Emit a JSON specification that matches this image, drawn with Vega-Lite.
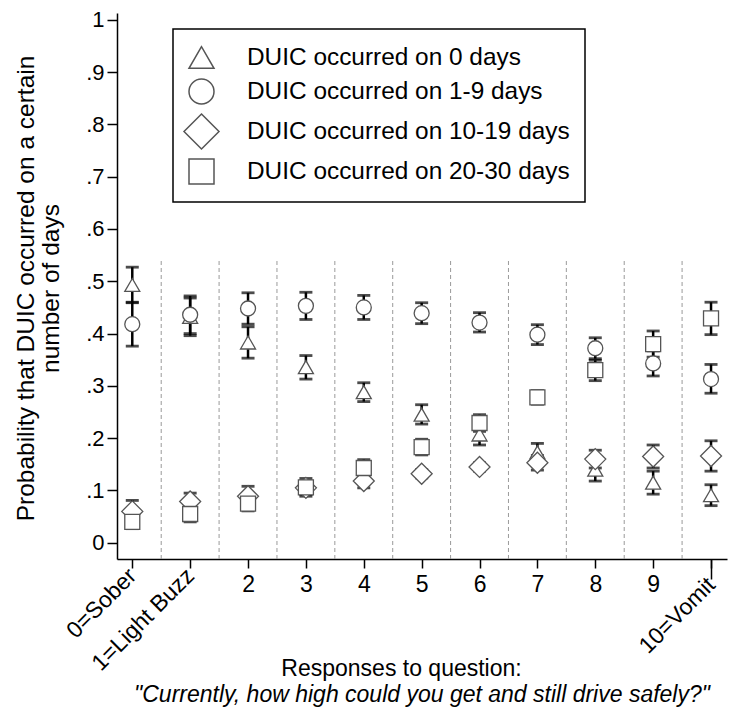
{
  "$schema": "https://vega.github.io/schema/vega-lite/v6.json",
  "width": 610,
  "height": 546,
  "autosize": {"type": "none"},
  "padding": {"left": 117, "top": 13, "right": 25, "bottom": 152},
  "background": "white",
  "resolve": {"axis": {"x": "independent", "y": "independent"}},
  "config": {
    "view": {"stroke": null},
    "font": "Liberation Sans",
    "legend": {
      "orient": "none",
      "legendX": 56,
      "legendY": 16,
      "strokeColor": "black",
      "strokeWidth": 1.5,
      "padding": 15,
      "labelFontSize": 24.4,
      "labelColor": "black",
      "labelFont": "Liberation Sans",
      "labelOffset": 32,
      "symbolSize": 625,
      "rowPadding": 4,
      "labelLimit": 500
    }
  },
  "title": {
    "text": "\"Currently, how high could you get and still drive safely?\"",
    "orient": "bottom",
    "anchor": "middle",
    "frame": "group",
    "fontStyle": "italic",
    "fontWeight": "normal",
    "fontSize": 23,
    "font": "Liberation Sans",
    "color": "black",
    "offset": 4
  },
  "data": {
    "values": [
      {"x": 0, "series": "DUIC occurred on 0 days", "p": 0.493, "lo": 0.459, "hi": 0.527},
      {"x": 1, "series": "DUIC occurred on 0 days", "p": 0.432, "lo": 0.396, "hi": 0.468},
      {"x": 2, "series": "DUIC occurred on 0 days", "p": 0.383, "lo": 0.353, "hi": 0.413},
      {"x": 3, "series": "DUIC occurred on 0 days", "p": 0.336, "lo": 0.313, "hi": 0.358},
      {"x": 4, "series": "DUIC occurred on 0 days", "p": 0.288, "lo": 0.270, "hi": 0.306},
      {"x": 5, "series": "DUIC occurred on 0 days", "p": 0.245, "lo": 0.227, "hi": 0.264},
      {"x": 6, "series": "DUIC occurred on 0 days", "p": 0.207, "lo": 0.187, "hi": 0.227},
      {"x": 7, "series": "DUIC occurred on 0 days", "p": 0.173, "lo": 0.157, "hi": 0.190},
      {"x": 8, "series": "DUIC occurred on 0 days", "p": 0.140, "lo": 0.118, "hi": 0.160},
      {"x": 9, "series": "DUIC occurred on 0 days", "p": 0.115, "lo": 0.093, "hi": 0.137},
      {"x": 10, "series": "DUIC occurred on 0 days", "p": 0.091, "lo": 0.071, "hi": 0.111},
      {"x": 0, "series": "DUIC occurred on 1-9 days", "p": 0.418, "lo": 0.376, "hi": 0.460},
      {"x": 1, "series": "DUIC occurred on 1-9 days", "p": 0.436, "lo": 0.400, "hi": 0.472},
      {"x": 2, "series": "DUIC occurred on 1-9 days", "p": 0.448, "lo": 0.418, "hi": 0.478},
      {"x": 3, "series": "DUIC occurred on 1-9 days", "p": 0.453, "lo": 0.427, "hi": 0.479},
      {"x": 4, "series": "DUIC occurred on 1-9 days", "p": 0.450, "lo": 0.427, "hi": 0.473},
      {"x": 5, "series": "DUIC occurred on 1-9 days", "p": 0.439, "lo": 0.419, "hi": 0.459},
      {"x": 6, "series": "DUIC occurred on 1-9 days", "p": 0.421, "lo": 0.403, "hi": 0.440},
      {"x": 7, "series": "DUIC occurred on 1-9 days", "p": 0.398, "lo": 0.379, "hi": 0.417},
      {"x": 8, "series": "DUIC occurred on 1-9 days", "p": 0.372, "lo": 0.352, "hi": 0.392},
      {"x": 9, "series": "DUIC occurred on 1-9 days", "p": 0.343, "lo": 0.319, "hi": 0.367},
      {"x": 10, "series": "DUIC occurred on 1-9 days", "p": 0.313, "lo": 0.286, "hi": 0.341},
      {"x": 0, "series": "DUIC occurred on 10-19 days", "p": 0.060, "lo": 0.040, "hi": 0.081},
      {"x": 1, "series": "DUIC occurred on 10-19 days", "p": 0.079, "lo": 0.063, "hi": 0.095},
      {"x": 2, "series": "DUIC occurred on 10-19 days", "p": 0.089, "lo": 0.070, "hi": 0.108},
      {"x": 3, "series": "DUIC occurred on 10-19 days", "p": 0.105, "lo": 0.092, "hi": 0.118},
      {"x": 4, "series": "DUIC occurred on 10-19 days", "p": 0.118, "lo": 0.105, "hi": 0.131},
      {"x": 5, "series": "DUIC occurred on 10-19 days", "p": 0.132, "lo": 0.124, "hi": 0.140},
      {"x": 6, "series": "DUIC occurred on 10-19 days", "p": 0.145, "lo": 0.137, "hi": 0.153},
      {"x": 7, "series": "DUIC occurred on 10-19 days", "p": 0.153, "lo": 0.139, "hi": 0.167},
      {"x": 8, "series": "DUIC occurred on 10-19 days", "p": 0.160, "lo": 0.143, "hi": 0.177},
      {"x": 9, "series": "DUIC occurred on 10-19 days", "p": 0.165, "lo": 0.143, "hi": 0.187},
      {"x": 10, "series": "DUIC occurred on 10-19 days", "p": 0.166, "lo": 0.137, "hi": 0.195},
      {"x": 0, "series": "DUIC occurred on 20-30 days", "p": 0.040, "lo": 0.027, "hi": 0.053},
      {"x": 1, "series": "DUIC occurred on 20-30 days", "p": 0.055, "lo": 0.040, "hi": 0.070},
      {"x": 2, "series": "DUIC occurred on 20-30 days", "p": 0.075, "lo": 0.061, "hi": 0.089},
      {"x": 3, "series": "DUIC occurred on 20-30 days", "p": 0.106, "lo": 0.089, "hi": 0.123},
      {"x": 4, "series": "DUIC occurred on 20-30 days", "p": 0.143, "lo": 0.127, "hi": 0.159},
      {"x": 5, "series": "DUIC occurred on 20-30 days", "p": 0.183, "lo": 0.168, "hi": 0.198},
      {"x": 6, "series": "DUIC occurred on 20-30 days", "p": 0.229, "lo": 0.213, "hi": 0.245},
      {"x": 7, "series": "DUIC occurred on 20-30 days", "p": 0.278, "lo": 0.265, "hi": 0.291},
      {"x": 8, "series": "DUIC occurred on 20-30 days", "p": 0.330, "lo": 0.310, "hi": 0.349},
      {"x": 9, "series": "DUIC occurred on 20-30 days", "p": 0.380, "lo": 0.355, "hi": 0.405},
      {"x": 10, "series": "DUIC occurred on 20-30 days", "p": 0.429, "lo": 0.398, "hi": 0.460}
    ]
  },
  "layer": [
    {
      "data": {"values": [{"b": 0.5}, {"b": 1.5}, {"b": 2.5}, {"b": 3.5}, {"b": 4.5}, {"b": 5.5}, {"b": 6.5}, {"b": 7.5}, {"b": 8.5}, {"b": 9.5}]},
      "mark": {"type": "rule", "color": "#9a9a9a", "strokeWidth": 1, "strokeDash": [4, 3]},
      "encoding": {
        "x": {"field": "b", "type": "quantitative", "scale": {"domain": [-0.264, 10.276], "nice": false, "zero": false}, "axis": null},
        "y": {"datum": -0.031, "type": "quantitative", "scale": {"domain": [-0.031, 1.013], "nice": false, "zero": false}, "axis": null},
        "y2": {"datum": 0.543}
      }
    },
    {
      "mark": {"type": "rule", "color": "black", "strokeWidth": 2.5},
      "encoding": {
        "x": {
          "field": "x",
          "type": "quantitative",
          "axis": {
            "orient": "bottom",
            "values": [0, 1, 10],
            "labelExpr": "datum.value == 0 ? '0=Sober' : datum.value == 1 ? '1=Light Buzz' : '10=Vomit'",
            "domain": false,
            "grid": false,
            "ticks": true,
            "tickColor": "black",
            "tickWidth": 1.5,
            "tickSize": 20,
            "tickOpacity": {"condition": {"test": "datum.value == 10", "value": 1}, "value": 0},
            "labelAngle": -45,
            "labelAlign": "right",
            "labelBaseline": "middle",
            "labelFontSize": 23,
            "labelColor": "black",
            "labelFont": "Liberation Sans",
            "labelPadding": {"condition": {"test": "datum.value == 10", "value": 2}, "value": -7},
            "labelOverlap": false,
            "labelFlush": false,
            "title": null
          }
        },
        "y": {"field": "lo", "type": "quantitative", "axis": null},
        "y2": {"field": "hi"}
      }
    },
    {
      "mark": {"type": "tick", "orient": "horizontal", "color": "black", "thickness": 2.8, "size": 13},
      "encoding": {
        "x": {"field": "x", "type": "quantitative", "axis": null},
        "y": {"field": "lo", "type": "quantitative", "axis": null}
      }
    },
    {
      "mark": {"type": "tick", "orient": "horizontal", "color": "black", "thickness": 2.8, "size": 13},
      "encoding": {
        "x": {"field": "x", "type": "quantitative", "axis": null},
        "y": {"field": "hi", "type": "quantitative", "axis": null}
      }
    },
    {
      "mark": {"type": "point", "filled": false, "fill": "white", "fillOpacity": 1, "stroke": "#555555", "strokeWidth": 1.3, "size": 225, "opacity": 1},
      "encoding": {
        "x": {
          "field": "x",
          "type": "quantitative",
          "axis": {
            "orient": "bottom",
            "values": [0, 1, 2, 3, 4, 5, 6, 7, 8, 9, 10],
            "labelExpr": "(datum.value == 0 || datum.value == 1 || datum.value == 10) ? '' : '' + datum.value",
            "grid": false,
            "domainColor": "black",
            "domainWidth": 1.5,
            "tickColor": "black",
            "tickWidth": 1.5,
            "tickSize": 9,
            "labelAngle": 0,
            "labelAlign": "center",
            "labelBaseline": "top",
            "labelFontSize": 23,
            "labelColor": "black",
            "labelFont": "Liberation Sans",
            "labelPadding": 5,
            "labelOverlap": false,
            "labelFlush": false,
            "title": "Responses to question:",
            "titleFontSize": 23,
            "titleFontWeight": "normal",
            "titleFont": "Liberation Sans",
            "titleColor": "black",
            "titleAnchor": null,
            "titleX": 284,
            "titleY": 109,
            "titleAlign": "center",
            "titleBaseline": "middle"
          }
        },
        "y": {
          "field": "p",
          "type": "quantitative",
          "axis": {
            "values": [0, 0.1, 0.2, 0.3, 0.4, 0.5, 0.6, 0.7, 0.8, 0.9, 1],
            "labelExpr": "datum.value == 0 ? '0' : datum.value == 1 ? '1' : replace(format(datum.value, '.1f'), '0.', '.')",
            "grid": false,
            "domainColor": "black",
            "domainWidth": 1.5,
            "tickColor": "black",
            "tickWidth": 1.5,
            "tickSize": 10,
            "labelFontSize": 22,
            "labelColor": "black",
            "labelFont": "Liberation Sans",
            "labelPadding": 3,
            "labelOverlap": false,
            "labelFlush": false,
            "title": ["Probability that DUIC occurred on a certain", "number of days"],
            "titleFontSize": 24.5,
            "titleFontWeight": "normal",
            "titleFont": "Liberation Sans",
            "titleColor": "black",
            "titleAnchor": null,
            "titleAngle": -90,
            "titleX": -79,
            "titleY": 275,
            "titleAlign": "center",
            "titleBaseline": "bottom",
            "titleLineHeight": 25
          }
        },
        "shape": {
          "field": "series",
          "type": "nominal",
          "scale": {
            "domain": ["DUIC occurred on 0 days", "DUIC occurred on 1-9 days", "DUIC occurred on 10-19 days", "DUIC occurred on 20-30 days"],
            "range": ["triangle-up", "circle", "M0,-1.4L1.4,0L0,1.4L-1.4,0Z", "square"]
          },
          "legend": {
            "title": null,
            "encode": {
              "symbols": {
                "stroke": {"value": "black"},
                "strokeWidth": {"value": 1.7}
              }
            }
          }
        }
      }
    }
  ]
}
